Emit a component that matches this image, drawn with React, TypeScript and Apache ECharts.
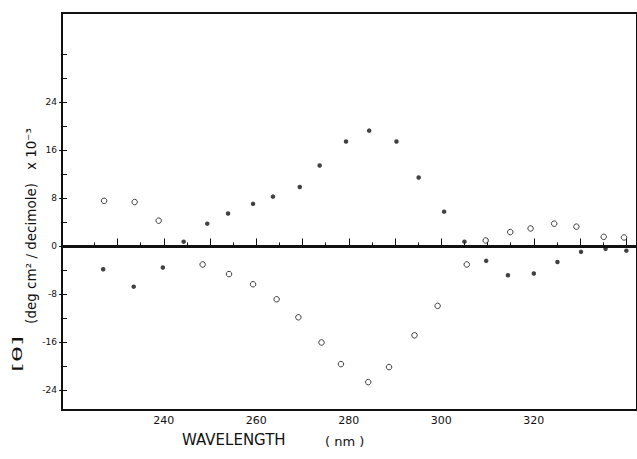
import React, { useEffect, useRef } from "react";
import * as echarts from "echarts";

// Open-circle series (wavelength nm, [θ] × 10^-3)
const openWavelength = [227.1, 233.7, 238.9, 248.4, 254.1, 259.3, 264.4, 269.1, 274.1, 278.3, 284.2, 288.7, 294.2, 299.2, 305.5, 309.6, 314.9, 319.3, 324.4, 329.2, 335.1, 339.5];
const openTheta = [7.6, 7.4, 4.3, -3.0, -4.6, -6.3, -8.8, -11.8, -16.0, -19.6, -22.6, -20.1, -14.8, -9.9, -3.0, 1.0, 2.4, 3.0, 3.8, 3.3, 1.6, 1.5];

// Filled-dot series
const filledWavelength = [226.9, 233.5, 239.8, 244.3, 249.4, 253.9, 259.3, 263.6, 269.4, 273.7, 279.4, 284.4, 290.3, 295.1, 300.6, 305.0, 309.7, 314.4, 320.0, 325.1, 330.2, 335.5, 340.0];
const filledTheta = [-3.8, -6.7, -3.5, 0.8, 3.8, 5.5, 7.1, 8.3, 9.9, 13.5, 17.5, 19.3, 17.5, 11.5, 5.8, 0.8, -2.4, -4.8, -4.5, -2.6, -0.9, -0.4, -0.7];

// Axis ticks / labels
const xLabelValues = [240, 260, 280, 300, 320];
const xMajorTickValues = [230, 240, 250, 260, 270, 280, 290, 300, 310, 320, 330, 340];
const xMinorTickValues = [225, 230, 235, 240, 245, 250, 255, 260, 265, 270, 275, 280, 285, 290, 295, 300, 305, 310, 315, 320, 325, 330, 335, 340];
const yLabelValues = [-24, -16, -8, 0, 8, 16, 24];
const yTickValues = [-24, -20, -16, -12, -8, -4, 0, 4, 8, 12, 16, 20, 24, 28, 32];

const X_MIN = 218;
const X_MAX = 342.3;
const Y_MIN = -27.25;
const Y_MAX = 38.9;

const FONT = "DejaVu Sans";
const INK = "#111";

export default function App() {
  const ref = useRef<HTMLDivElement>(null);

  useEffect(() => {
    if (!ref.current) return;
    const chart = echarts.init(ref.current, null, { renderer: "svg" });

    const openData = openWavelength.map((w, i) => [w, openTheta[i]]);
    const filledData = filledWavelength.map((w, i) => [w, filledTheta[i]]);

    const baseAxis = {
      type: "value",
      axisLine: { show: false },
      splitLine: { show: false },
    };

    chart.setOption({
      animation: false,
      backgroundColor: "#fff",
      grid: {
        left: 62,
        top: 13,
        right: -8,
        bottom: 49,
        show: true,
        borderColor: INK,
        borderWidth: 2,
        backgroundColor: "transparent",
      },
      xAxis: [
        {
          ...baseAxis,
          min: X_MIN,
          max: X_MAX,
          position: "bottom",
          axisTick: {
            show: true,
            inside: true,
            length: 4,
            customValues: xMinorTickValues,
            lineStyle: { color: INK, width: 1 },
          },
          axisLabel: { show: false },
        },
        {
          ...baseAxis,
          min: X_MIN,
          max: X_MAX,
          position: "bottom",
          axisTick: {
            show: true,
            inside: true,
            length: 8,
            customValues: xMajorTickValues,
            lineStyle: { color: INK, width: 1 },
          },
          axisLabel: {
            show: true,
            customValues: xLabelValues,
            fontFamily: FONT,
            fontSize: 11,
            color: INK,
            margin: 5,
          },
        },
      ],
      yAxis: [
        {
          ...baseAxis,
          min: Y_MIN,
          max: Y_MAX,
          position: "left",
          axisTick: {
            show: true,
            inside: true,
            length: 5,
            customValues: yTickValues,
            lineStyle: { color: INK, width: 1 },
          },
          axisLabel: { show: false },
        },
        {
          ...baseAxis,
          min: Y_MIN,
          max: Y_MAX,
          position: "left",
          axisTick: {
            show: true,
            inside: false,
            length: 3,
            customValues: yLabelValues,
            lineStyle: { color: INK, width: 1 },
          },
          axisLabel: {
            show: true,
            customValues: yLabelValues,
            fontFamily: FONT,
            fontSize: 9,
            color: INK,
            margin: 5,
          },
        },
      ],
      series: [
        {
          type: "scatter",
          xAxisIndex: 0,
          yAxisIndex: 0,
          data: filledData,
          symbol: "circle",
          symbolSize: 4.5,
          itemStyle: { color: INK },
          emphasis: { disabled: true },
          markLine: {
            silent: true,
            symbol: ["none", "none"],
            label: { show: false },
            lineStyle: { color: INK, width: 3, type: "solid" },
            emphasis: { disabled: true },
            data: [{ yAxis: 0 }],
          },
        },
        {
          type: "scatter",
          xAxisIndex: 0,
          yAxisIndex: 0,
          data: openData,
          symbol: "circle",
          symbolSize: 5.5,
          itemStyle: { color: "#fff", borderColor: INK, borderWidth: 1 },
          emphasis: { disabled: true },
        },
      ],
      graphic: [
        {
          type: "text",
          x: 182,
          y: 440,
          style: {
            text: "WAVELENGTH",
            fontFamily: FONT,
            fontSize: 15,
            fill: INK,
            align: "left",
            verticalAlign: "middle",
          },
        },
        {
          type: "text",
          x: 325,
          y: 441,
          style: {
            text: "( nm )",
            fontFamily: FONT,
            fontSize: 13,
            fill: INK,
            align: "left",
            verticalAlign: "middle",
          },
        },
        {
          type: "text",
          x: 18,
          y: 354,
          rotation: Math.PI / 2,
          scaleX: 2.0,
          style: {
            text: "[θ]",
            fontFamily: FONT,
            fontSize: 13,
            fill: INK,
            align: "center",
            verticalAlign: "middle",
          },
        },
        {
          type: "text",
          x: 31,
          y: 226,
          rotation: Math.PI / 2,
          style: {
            text: "(deg cm² / decimole)   x 10⁻³",
            fontFamily: FONT,
            fontSize: 13.5,
            fill: INK,
            align: "center",
            verticalAlign: "middle",
          },
        },
      ],
    });

    return () => chart.dispose();
  }, []);

  return (
    <div
      ref={ref}
      style={{
        position: "fixed",
        left: 0,
        top: 0,
        width: 637,
        height: 459,
        background: "#fff",
      }}
    />
  );
}
